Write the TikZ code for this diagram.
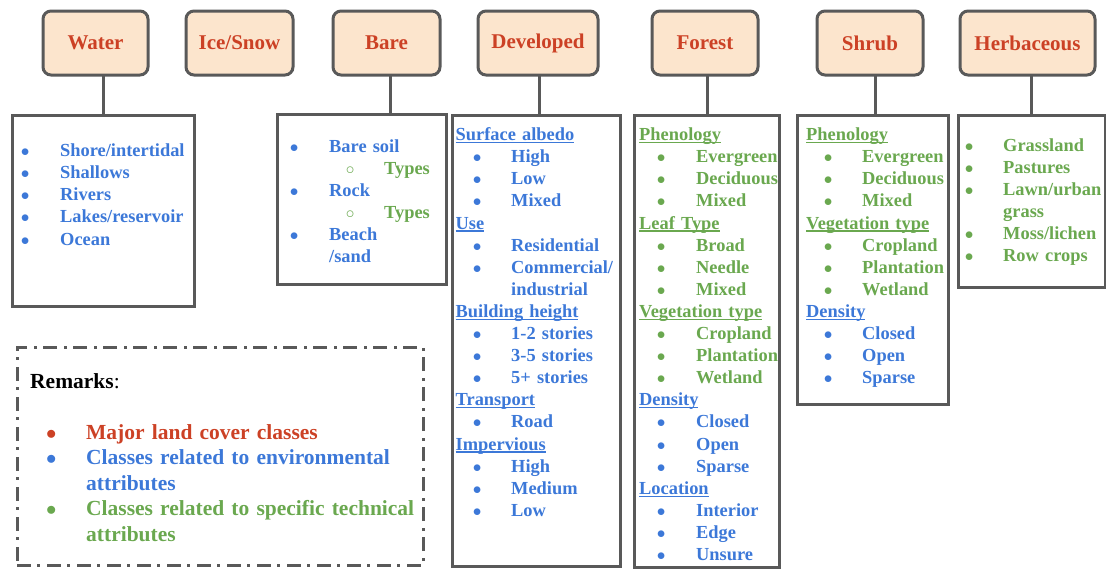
\documentclass[tikz,border=0pt]{standalone}
\usepackage{fontspec}
\setmainfont{Liberation Serif}
\usetikzlibrary{positioning}

\definecolor{landred}{HTML}{CC4125}
\definecolor{landblue}{HTML}{3C78D8}
\definecolor{landgreen}{HTML}{6AA84F}
\definecolor{landfill}{HTML}{FCE5CD}
\definecolor{boxgray}{HTML}{595959}

\setlength\parindent{0pt}
\newlength\hx
\newlength\bx
\newlength\tx
\newcommand{\offs}[3]{\setlength\hx{#1}\setlength\bx{#2}\setlength\tx{#3}}
\newcommand{\ulin}[1]{\setbox0\hbox{#1}\rlap{\rule[-2.5pt]{\wd0}{1.2pt}}\box0}
\newcommand{\hdg}[1]{\strut\hspace*{\hx}\ulin{#1}}
\newcommand{\itm}[1]{\strut\hspace*{\bx}\makebox[0pt]{$\bullet$}\hspace*{\dimexpr\tx-\bx\relax}#1}
\newcommand{\sitm}[1]{\strut\hspace*{73pt}\makebox[0pt]{$\circ$}\hspace*{34pt}#1}
\newcommand{\cont}[1]{\strut\hspace*{\tx}#1}

\begin{document}
\begin{tikzpicture}[x=1pt,y=-1pt]
		\tikzstyle{major}=[draw=boxgray,fill=landfill,line width=3pt,rounded corners=8pt,outer sep=0pt,minimum height=64pt,text=landred,font=\fontsize{21}{25}\selectfont\bfseries]
		\tikzstyle{list}=[draw=boxgray,line width=3pt,anchor=north west,outer sep=0pt,inner sep=0pt]
		\tikzstyle{items}=[inner sep=0pt,text width=400pt,align=left,font=\fontsize{18.4}{22.1}\selectfont\bfseries]
		\tikzstyle{link}=[draw=boxgray,line width=3pt]

		\useasboundingbox (0,0) rectangle (1106,568);

		% major land cover classes
		\node[major,minimum width=105pt] (water) at (95.5,43) {Water};
		\node[major,minimum width=107pt] (ice) at (239.5,43) {Ice/Snow};
		\node[major,minimum width=107pt] (bare) at (386.5,43) {Bare};
		\node[major,minimum width=120pt] (dev) at (538,43) {Developed};
		\node[major,minimum width=106pt] (forest) at (705,43) {Forest};
		\node[major,minimum width=106pt] (shrub) at (870,43) {Shrub};
		\node[major,minimum width=135pt] (herb) at (1027.5,43) {Herbaceous};

		% boxes of sub classes
		\node[list,minimum width=182pt,minimum height=191pt] (waterlist) at (12,115) {};
		\node[list,minimum width=169pt,minimum height=170pt] (barelist) at (277,114) {};
		\node[list,minimum width=168pt,minimum height=451pt] (devlist) at (452,115) {};
		\node[list,minimum width=145pt,minimum height=452pt] (forestlist) at (634,115) {};
		\node[list,minimum width=151pt,minimum height=289pt] (shrublist) at (797,115) {};
		\node[list,minimum width=147pt,minimum height=172pt] (herblist) at (958,115) {};
		\node[list,dash pattern=on 14pt off 6pt on 3pt off 7pt,minimum width=406pt,minimum height=218pt] (remarks) at (17,347) {};

		\draw[link] ([xshift=7.5pt]water.south) -- ([xshift=7.5pt]water.south |- waterlist.north);
		\draw[link] ([xshift=3.5pt]bare.south) -- ([xshift=3.5pt]bare.south |- barelist.north);
		\draw[link] ([xshift=1pt]dev.south) -- ([xshift=1pt]dev.south |- devlist.north);
		\draw[link] ([xshift=2pt]forest.south) -- ([xshift=2pt]forest.south |- forestlist.north);
		\draw[link] ([xshift=5pt]shrub.south) -- ([xshift=5pt]shrub.south |- shrublist.north);
		\draw[link] ([xshift=3.5pt]herb.south) -- ([xshift=3.5pt]herb.south |- herblist.north);

		% lists
		\node[items,text=landblue,below right=26pt and 0pt of waterlist.north west] (watertxt)
			{\offs{0pt}{13pt}{48pt}\itm{Shore/intertidal}\\\itm{Shallows}\\\itm{Rivers}\\\itm{Lakes/reservoir}\\\itm{Ocean}};
		\node[items,text=landblue,below right=22.5pt and 0pt of barelist.north west] (baretxt)
			{\offs{0pt}{17pt}{52pt}\itm{Bare soil}\\{\color{landgreen}\sitm{Types}}\\\itm{Rock}\\{\color{landgreen}\sitm{Types}}\\\itm{Beach}\\\cont{/sand}};
		\node[items,text=landblue,below right=10pt and 0pt of devlist.north west] (devtxt)
			{\offs{3.5pt}{25pt}{59pt}\hdg{Surface albedo}\\\itm{High}\\\itm{Low}\\\itm{Mixed}\\\hdg{Use}\\\itm{Residential}\\\itm{Commercial/}\\\cont{industrial}\\\hdg{Building height}\\\itm{1-2 stories}\\\itm{3-5 stories}\\\itm{5+ stories}\\\hdg{Transport}\\\itm{Road}\\\hdg{Impervious}\\\itm{High}\\\itm{Medium}\\\itm{Low}};
		\node[items,text=landgreen,below right=10pt and 0pt of forestlist.north west] (foresttxt)
			{\offs{5pt}{27pt}{62pt}\hdg{Phenology}\\\itm{Evergreen}\\\itm{Deciduous}\\\itm{Mixed}\\\hdg{Leaf Type}\\\itm{Broad}\\\itm{Needle}\\\itm{Mixed}\\\hdg{Vegetation type}\\\itm{Cropland}\\\itm{Plantation}\\\itm{Wetland}\\\color{landblue}\hdg{Density}\\\itm{Closed}\\\itm{Open}\\\itm{Sparse}\\\hdg{Location}\\\itm{Interior}\\\itm{Edge}\\\itm{Unsure}};
		\node[items,text=landgreen,below right=10pt and 0pt of shrublist.north west] (shrubtxt)
			{\offs{9pt}{31pt}{65pt}\hdg{Phenology}\\\itm{Evergreen}\\\itm{Deciduous}\\\itm{Mixed}\\\hdg{Vegetation type}\\\itm{Cropland}\\\itm{Plantation}\\\itm{Wetland}\\\color{landblue}\hdg{Density}\\\itm{Closed}\\\itm{Open}\\\itm{Sparse}};
		\node[items,text=landgreen,below right=20.5pt and 0pt of herblist.north west] (herbtxt)
			{\offs{0pt}{11pt}{45pt}\itm{Grassland}\\\itm{Pastures}\\\itm{Lawn/urban}\\\cont{grass}\\\itm{Moss/lichen}\\\itm{Row crops}};

		% remarks
		\node[items,text=black,font=\fontsize{21.5}{25.5}\selectfont\bfseries,below right=23pt and 0pt of remarks.north west] (remarktxt)
			{\offs{13pt}{34pt}{69pt}\strut\hspace*{\hx}Remarks{\mdseries:}\\\strut\\\color{landred}\itm{Major land cover classes}\\\color{landblue}\itm{Classes related to environmental}\\\cont{attributes}\\\color{landgreen}\itm{Classes related to specific technical}\\\cont{attributes}};
	\end{tikzpicture}
\end{document}
